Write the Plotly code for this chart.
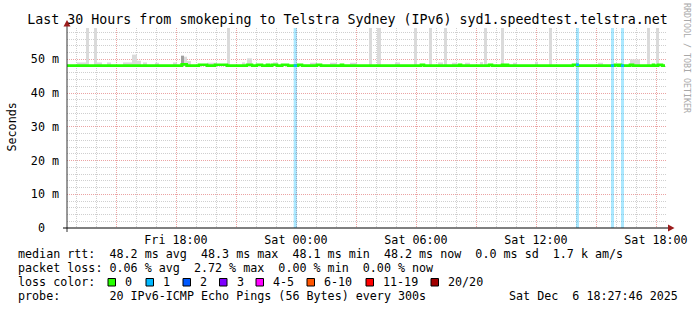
import pandas as pd
import plotly.graph_objects as go

# ---------------- data ----------------
# median RTT (ms), step values starting at each time
med_times = [
    "2025-12-05 12:33", "2025-12-05 18:17", "2025-12-05 18:32", "2025-12-05 19:09", "2025-12-05 19:33",
    "2025-12-05 19:57", "2025-12-05 20:33", "2025-12-05 21:33", "2025-12-05 21:48", "2025-12-05 22:03",
    "2025-12-05 22:18", "2025-12-05 22:33", "2025-12-05 22:39", "2025-12-05 22:48", "2025-12-05 23:03",
    "2025-12-05 23:18", "2025-12-05 23:36", "2025-12-06 00:06", "2025-12-06 00:18", "2025-12-06 01:03",
    "2025-12-06 01:15", "2025-12-06 02:15", "2025-12-06 02:21", "2025-12-06 06:15", "2025-12-06 06:24",
    "2025-12-06 08:09", "2025-12-06 08:15", "2025-12-06 09:39", "2025-12-06 09:48", "2025-12-06 10:18",
    "2025-12-06 10:24", "2025-12-06 10:30", "2025-12-06 10:36", "2025-12-06 13:51", "2025-12-06 14:03",
    "2025-12-06 15:57", "2025-12-06 16:06", "2025-12-06 16:12", "2025-12-06 16:15", "2025-12-06 16:42",
    "2025-12-06 16:51", "2025-12-06 17:51", "2025-12-06 17:54", "2025-12-06 18:06", "2025-12-06 18:18",
    "2025-12-06 18:27",
]
med_vals = [
    48.15, 48.5, 48.15, 48.4, 48.15,
    48.4, 48.15, 48.4, 48.15, 48.4,
    48.15, 48.4, 48.15, 48.4, 48.15,
    48.4, 48.15, 48.4, 48.15, 48.4,
    48.15, 48.4, 48.15, 48.4, 48.15,
    48.4, 48.15, 48.4, 48.15, 48.4,
    48.15, 48.4, 48.15, 48.4, 48.15,
    48.4, 48.15, 48.4, 48.15, 48.4,
    48.15, 48.4, 48.15, 48.4, 48.15,
    48.15,
]

# smoke (spread of the 20 pings) above the median: interval start/end and top (ms)
smoke_start = [
    "2025-12-05 13:03", "2025-12-05 13:30", "2025-12-05 13:54", "2025-12-05 14:03", "2025-12-05 14:33",
    "2025-12-05 15:21", "2025-12-05 15:48", "2025-12-05 16:03", "2025-12-05 16:21", "2025-12-05 16:57",
    "2025-12-05 17:51", "2025-12-05 18:24", "2025-12-05 18:33", "2025-12-05 19:33", "2025-12-05 20:33",
    "2025-12-05 21:18", "2025-12-05 21:33", "2025-12-05 22:51", "2025-12-06 00:42", "2025-12-06 01:42",
    "2025-12-06 02:42", "2025-12-06 03:39", "2025-12-06 04:03", "2025-12-06 04:57", "2025-12-06 05:54",
    "2025-12-06 06:39", "2025-12-06 07:06", "2025-12-06 07:24", "2025-12-06 07:48", "2025-12-06 08:27",
    "2025-12-06 09:12", "2025-12-06 09:24", "2025-12-06 10:15", "2025-12-06 10:51", "2025-12-06 11:57",
    "2025-12-06 12:39", "2025-12-06 15:06", "2025-12-06 16:42", "2025-12-06 17:33", "2025-12-06 18:00",
]
smoke_end = [
    "2025-12-05 13:30", "2025-12-05 13:39", "2025-12-05 14:03", "2025-12-05 14:18", "2025-12-05 14:45",
    "2025-12-05 15:48", "2025-12-05 16:03", "2025-12-05 16:15", "2025-12-05 16:33", "2025-12-05 17:09",
    "2025-12-05 18:03", "2025-12-05 18:33", "2025-12-05 18:45", "2025-12-05 20:03", "2025-12-05 20:42",
    "2025-12-05 21:27", "2025-12-05 21:48", "2025-12-05 23:06", "2025-12-06 01:03", "2025-12-06 02:03",
    "2025-12-06 03:03", "2025-12-06 03:48", "2025-12-06 04:15", "2025-12-06 05:12", "2025-12-06 06:03",
    "2025-12-06 06:48", "2025-12-06 07:21", "2025-12-06 07:33", "2025-12-06 08:03", "2025-12-06 08:42",
    "2025-12-06 09:21", "2025-12-06 09:33", "2025-12-06 10:24", "2025-12-06 11:03", "2025-12-06 12:06",
    "2025-12-06 12:48", "2025-12-06 15:21", "2025-12-06 17:12", "2025-12-06 17:42", "2025-12-06 18:09",
]
smoke_top = [
    49.1, 59.3, 59.3, 49.1, 49.1,
    49.1, 51.4, 49.6, 49.1, 49.0,
    49.1, 50.8, 49.5, 49.0, 59.3,
    49.1, 50.3, 49.1, 49.0, 49.0,
    49.0, 59.3, 59.3, 49.1, 59.3,
    59.3, 49.1, 59.3, 49.0, 49.0,
    49.2, 59.3, 59.3, 49.0, 49.3,
    59.3, 49.0, 50.0, 59.3, 59.3,
]
# denser smoke core
dark_start = ["2025-12-05 18:15"]
dark_end = ["2025-12-05 18:24"]
dark_top = [51.1]

# packet loss events (lost pings out of 20)
loss_start = ["2025-12-05 23:53", "2025-12-06 14:00", "2025-12-06 15:45", "2025-12-06 16:15"]
loss_end = ["2025-12-06 00:03", "2025-12-06 14:09", "2025-12-06 15:54", "2025-12-06 16:24"]
loss_count = [1, 1, 1, 1]

y_tick_vals = [0, 10, 20, 30, 40, 50]
y_tick_labels = ["0\u00a0\u00a0", "10 m", "20 m", "30 m", "40 m", "50 m"]
x_label_vals = ["2025-12-05 18:00", "2025-12-06 00:00", "2025-12-06 06:00",
                "2025-12-06 12:00", "2025-12-06 18:00"]
x_label_text = ["Fri 18:00", "Sat 00:00", "Sat 06:00", "Sat 12:00", "Sat 18:00"]

loss_labels = ["0", "1", "2", "3", "4-5", "6-10", "11-19", "20/20"]
loss_colors = ["#26ff00", "#00b8ff", "#0059ff", "#7e00ff", "#ff00ff", "#ff5500", "#ff0000", "#a10000"]

title_text = "Last 30 Hours from smokeping to Telstra Sydney (IPv6) syd1.speedtest.telstra.net"
line_rtt = "median rtt:  48.2 ms avg  48.3 ms max  48.1 ms min  48.2 ms now  0.0 ms sd  1.7 k am/s"
line_loss = "packet loss: 0.06 % avg  2.72 % max  0.00 % min  0.00 % now"
line_color_head = "loss color:"
line_probe = "probe:       20 IPv6-ICMP Echo Pings (56 Bytes) every 300s"
line_date = "Sat Dec  6 18:27:46 2025"
credit = "RRDTOOL / TOBI OETIKER"

# ---------------- layout constants ----------------
W, H = 697, 310
L, R, T, B = 67, 31, 28, 82
PW, PH = W - L - R, H - T - B
Y_MAX = 59.3
X_RANGE = ["2025-12-05 12:33", "2025-12-06 18:30"]
MONO = "DejaVu Sans Mono"
FS = 11.7


def px(x):
    return (x - L) / PW


def py(y):
    return (T + PH - y) / PH


def nb(s):
    return s.replace(" ", "\u00a0")


def spans(starts, ends):
    s = pd.to_datetime(starts)
    e = pd.to_datetime(ends)
    centers = s + (e - s) / 2
    widths = (e - s).total_seconds() * 1000
    return list(centers), list(widths)


fig = go.Figure()

# loss bars
lc, lw = spans(loss_start, loss_end)
fig.add_trace(go.Bar(x=lc, y=[Y_MAX] * len(lc), base=0, width=lw,
                     marker=dict(color="rgba(0,184,255,0.33)", line=dict(width=0)),
                     hoverinfo="skip", showlegend=False))

# smoke
sc, sw = spans(smoke_start, smoke_end)
fig.add_trace(go.Bar(x=sc, y=[t - 48.0 for t in smoke_top], base=48.0, width=sw,
                     marker=dict(color="#dadada", line=dict(width=0)),
                     hoverinfo="skip", showlegend=False))
dc, dw = spans(dark_start, dark_end)
fig.add_trace(go.Bar(x=dc, y=[t - 48.0 for t in dark_top], base=48.0, width=dw,
                     marker=dict(color="#a0a0a0", line=dict(width=0)),
                     hoverinfo="skip", showlegend=False))

# median line
fig.add_trace(go.Scatter(x=pd.to_datetime(med_times), y=med_vals, mode="lines",
                         line=dict(color=loss_colors[0], width=2.6, shape="hv"),
                         hoverinfo="skip", showlegend=False))

# median segments coloured by loss
med_series = pd.Series(med_vals, index=pd.to_datetime(med_times))
for s, e, n in zip(loss_start, loss_end, loss_count):
    v = med_series[:pd.to_datetime(s)].iloc[-1]
    fig.add_trace(go.Scatter(x=[pd.to_datetime(s), pd.to_datetime(e)], y=[v, v], mode="lines",
                             line=dict(color=loss_colors[n], width=2.6),
                             hoverinfo="skip", showlegend=False))

# x ticks every 3 h (grid), labels every 6 h
grid3 = pd.date_range("2025-12-05 15:00", "2025-12-06 18:00", freq="3h")
lab_map = {pd.Timestamp(v): t for v, t in zip(x_label_vals, x_label_text)}
x_tickvals = list(grid3)
x_ticktext = [lab_map.get(v, "") for v in grid3]

MGRID = "#eba3a3"
GRID = "#cfcfcf"

fig.update_layout(
    template="none",
    width=W, height=H,
    margin=dict(l=L, r=R, t=T, b=B, autoexpand=False),
    paper_bgcolor="white", plot_bgcolor="white",
    barmode="overlay",
    font=dict(family=MONO, size=FS, color="black"),
    title=dict(text=nb(title_text), x=347.5 / W, xanchor="center", xref="container",
               y=1 - 19.5 / H, yanchor="middle", yref="container",
               font=dict(family=MONO, size=13.3, color="black")),
    xaxis=dict(type="date", range=X_RANGE, tickmode="array", tickvals=x_tickvals, ticktext=x_ticktext,
               automargin=False,
               showgrid=True, gridcolor=MGRID, griddash="1px,1px", gridwidth=1,
               minor=dict(dtick=3600000, tick0="2025-12-05 00:00", showgrid=True,
                          gridcolor=GRID, griddash="1px,1px", gridwidth=1),
               zeroline=False, showline=False, ticks="", ticklabelstandoff=3,
               tickfont=dict(family=MONO, size=FS)),
    yaxis=dict(range=[0, Y_MAX], tickmode="array", tickvals=y_tick_vals, ticktext=y_tick_labels,
               automargin=False,
               showgrid=True, gridcolor=MGRID, griddash="1px,1px", gridwidth=1,
               minor=dict(dtick=2, tick0=0, showgrid=True, gridcolor=GRID, griddash="1px,1px", gridwidth=1),
               zeroline=False, showline=False, ticks="", ticklabelstandoff=7,
               tickfont=dict(family=MONO, size=FS)),
)

AX = "#333333"
ARROW = "#9b1c1c"
shapes = [
    dict(type="line", xref="paper", yref="paper", x0=px(L), x1=px(L), y0=py(232), y1=py(24),
         line=dict(color=AX, width=1)),
    dict(type="line", xref="paper", yref="paper", x0=px(63), x1=px(670), y0=py(228), y1=py(228),
         line=dict(color="black", width=1)),
    dict(type="path", xref="paper", yref="paper",
         path=f"M {px(63.5)},{py(26.5)} L {px(70.5)},{py(26.5)} L {px(67)},{py(20)} Z",
         fillcolor=ARROW, line=dict(width=0)),
    dict(type="path", xref="paper", yref="paper",
         path=f"M {px(668)},{py(224.5)} L {px(668)},{py(231.5)} L {px(674.5)},{py(228)} Z",
         fillcolor=ARROW, line=dict(width=0)),
]

annotations = [
    dict(text="Seconds", textangle=-90, xref="paper", yref="paper", x=px(11), y=py(127.5),
         xanchor="center", yanchor="middle", showarrow=False, font=dict(family=MONO, size=FS)),
    dict(text=nb(credit), textangle=90, xref="paper", yref="paper", x=px(687), y=py(58),
         xanchor="center", yanchor="middle", showarrow=False,
         font=dict(family=MONO, size=8.3, color="#a8a8a8")),
]
rows = [(line_rtt, 254.3), (line_loss, 268.3), (line_color_head, 282.3), (line_probe, 296)]
for txt, yy in rows:
    annotations.append(dict(text=nb(txt), xref="paper", yref="paper", x=px(16), y=py(yy),
                            xanchor="left", yanchor="middle", showarrow=False,
                            font=dict(family=MONO, size=FS)))
annotations.append(dict(text=nb(line_date), xref="paper", yref="paper", x=px(680.5), y=py(296),
                        xanchor="right", yanchor="middle", showarrow=False,
                        font=dict(family=MONO, size=FS)))

box_x = [108, 146, 183, 219.5, 256, 307, 366, 431]
for bx, lab, col in zip(box_x, loss_labels, loss_colors):
    shapes.append(dict(type="rect", xref="paper", yref="paper",
                       x0=px(bx), x1=px(bx + 7.5), y0=py(286), y1=py(278.5),
                       fillcolor=col, line=dict(color="black", width=1)))
    annotations.append(dict(text=lab, xref="paper", yref="paper", x=px(bx + 15), y=py(282.3),
                            xanchor="left", yanchor="middle", showarrow=False,
                            font=dict(family=MONO, size=FS)))

fig.update_layout(shapes=shapes, annotations=annotations)
fig.write_html("out.html")
